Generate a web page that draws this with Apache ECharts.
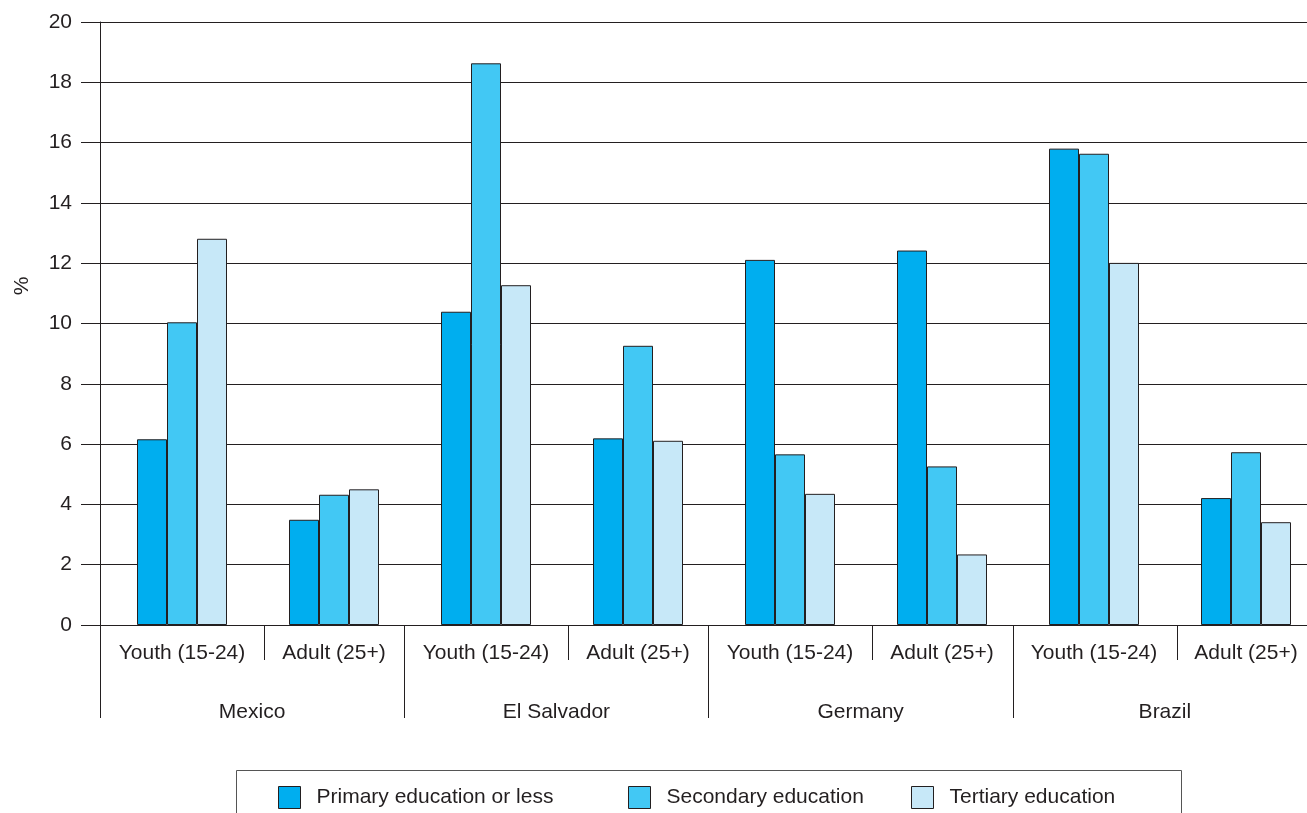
<!DOCTYPE html>
<html>
<head>
<meta charset="utf-8">
<script src="https://cdn.jsdelivr.net/npm/echarts@6/dist/echarts.min.js"></script>
<style>
html,body{margin:0;padding:0;background:#fff;}
#chart{width:1307px;height:813px;}
</style>
</head>
<body>
<div id="chart"></div>
<script>
// ---- data ----
const groups = ['Youth (15-24)', 'Adult (25+)', 'Youth (15-24)', 'Adult (25+)', 'Youth (15-24)', 'Adult (25+)', 'Youth (15-24)', 'Adult (25+)'];
const countries = ['Mexico', 'El Salvador', 'Germany', 'Brazil'];
const seriesNames = ['Primary education or less', 'Secondary education', 'Tertiary education'];
const primary   = [6.16, 3.49, 10.39, 6.19, 12.11, 12.42, 15.80, 4.21];
const secondary = [10.04, 4.32, 18.63, 9.26, 5.66, 5.26, 15.63, 5.73];
const tertiary  = [12.81, 4.50, 11.27, 6.11, 4.35, 2.34, 12.01, 3.41];
const yTicks = [0, 2, 4, 6, 8, 10, 12, 14, 16, 18, 20];

const colors = ['#00AEEF', '#42C8F4', '#C7E8F8'];
const ink = '#231f20';
const font = '"Liberation Sans", Arial, sans-serif';
const fs = 21;

const chart = echarts.init(document.getElementById('chart'), null, {renderer: 'canvas'});

const yMin = yTicks[0], yMax = yTicks[yTicks.length - 1], yInt = yTicks[1] - yTicks[0];

const legendCommon = {
  icon: 'rect', padding: 0, itemWidth: 22, itemHeight: 22, top: 786,
  textStyle: {color: ink, fontSize: fs, fontFamily: font, padding: [0, 0, 0, 11]},
  itemStyle: {borderColor: ink, borderWidth: 1}
};

const option = {
  animation: false,
  backgroundColor: '#fff',
  grid: [
    {left: 106, width: 1216, top: 22, height: 603, outerBoundsMode: 'none', containLabel: false},     // bars
    {left: 100, width: 1217, top: 22, height: 603, outerBoundsMode: 'none', containLabel: false},     // visible y axis + countries
    {left: 111.9, width: 1217, top: 22, height: 603, outerBoundsMode: 'none', containLabel: false}    // inner dividers
  ],
  xAxis: [
    {
      type: 'category', gridIndex: 0, data: groups,
      axisLine: {show: false}, axisTick: {show: false},
      axisLabel: {color: ink, fontSize: fs, fontFamily: font, margin: 18, interval: 0}
    },
    {
      type: 'category', gridIndex: 1, data: countries,
      axisLine: {show: true, lineStyle: {color: ink, width: 1}},
      axisTick: {show: true, length: 93, lineStyle: {color: ink, width: 1}},
      axisLabel: {color: ink, fontSize: fs, fontFamily: font, margin: 77, interval: 0}
    },
    {
      type: 'category', gridIndex: 2, data: countries,
      axisLine: {show: false},
      axisTick: {show: true, alignWithLabel: true, length: 35, lineStyle: {color: ink, width: 1}},
      axisLabel: {show: false}
    }
  ],
  yAxis: [
    {type: 'value', gridIndex: 0, min: yMin, max: yMax, interval: yInt, show: false},
    {
      type: 'value', gridIndex: 1, min: yMin, max: yMax, interval: yInt,
      name: '%', nameLocation: 'middle', nameGap: 67, nameRotate: 90,
      nameTextStyle: {color: ink, fontSize: fs, fontFamily: font, padding: [0, 0, 0, 75]},
      axisLine: {show: true, lineStyle: {color: ink, width: 1}},
      axisTick: {show: true, length: 19, lineStyle: {color: ink, width: 1}},
      axisLabel: {color: ink, fontSize: fs, fontFamily: font, margin: 28},
      splitLine: {show: true, lineStyle: {color: ink, width: 1}}
    },
    {type: 'value', gridIndex: 2, min: yMin, max: yMax, interval: yInt, show: false}
  ],
  legend: [
    Object.assign({data: [seriesNames[0]], left: 278}, legendCommon),
    Object.assign({data: [seriesNames[1]], left: 628}, legendCommon),
    Object.assign({data: [seriesNames[2]], left: 911}, legendCommon)
  ],
  graphic: [
    {type: 'rect', shape: {x: 236.5, y: 770.5, width: 945, height: 60},
     style: {fill: 'none', stroke: '#555', lineWidth: 1}, silent: true, z: -1}
  ],
  series: [primary, secondary, tertiary].map((vals, i) => ({
    name: seriesNames[i], type: 'bar', xAxisIndex: 0, yAxisIndex: 0,
    data: vals, barWidth: 30, barGap: '0%',
    itemStyle: {color: colors[i], borderColor: ink, borderWidth: 1}
  }))
};
chart.setOption(option);
</script>
</body>
</html>
